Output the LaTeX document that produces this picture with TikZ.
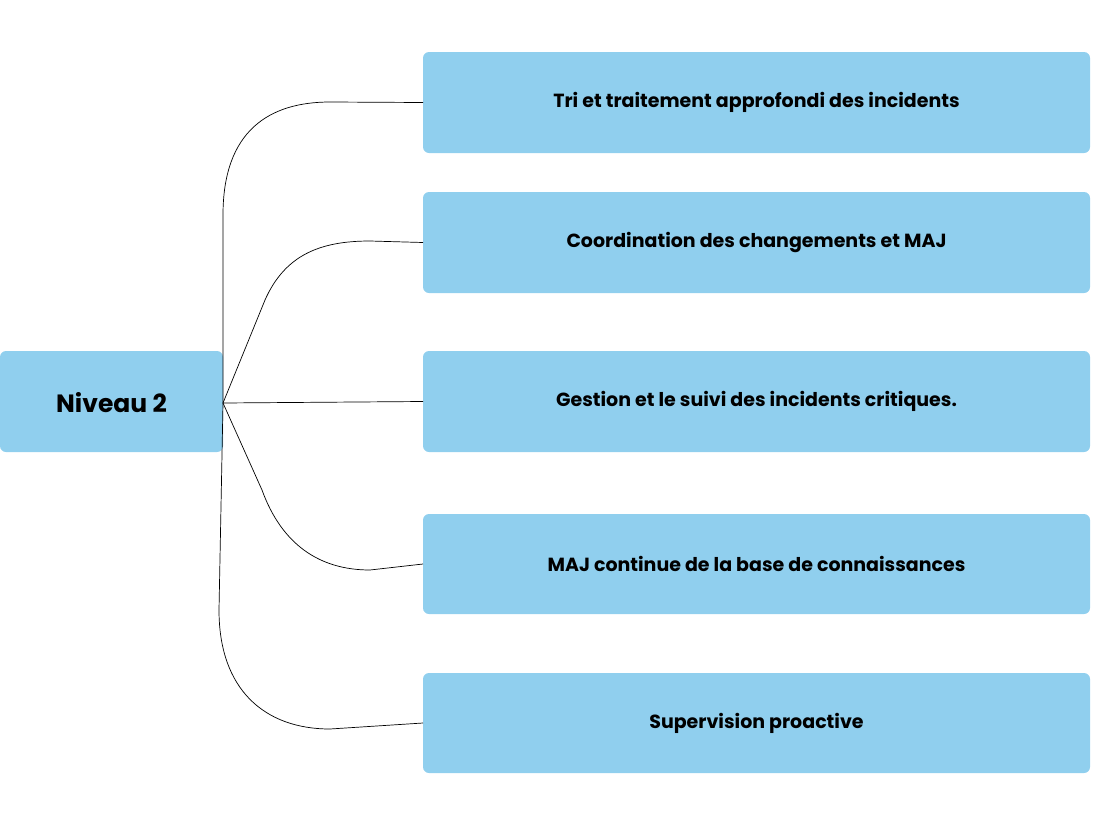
\documentclass[tikz,border=0pt]{standalone}
\usepackage{fontspec}
\setmainfont{Poppins}
\definecolor{boxc}{HTML}{90CFEE}
\begin{document}
\begin{tikzpicture}[x=1pt,y=-1pt,
  bx/.style={fill=boxc,rounded corners=6pt,inner sep=0pt},
  lbl/.style={font=\fontsize{19}{22}\selectfont\bfseries},
  conn/.style={draw=black,line width=0.7pt}]
\useasboundingbox (0,0) rectangle (1104,833);
\fill[bx] (0,351) rectangle (223,452);
\node[font=\fontsize{25}{30}\selectfont\bfseries] (n) at (111.5,403) {Niveau 2};
\coordinate (c) at (223,403);
\foreach \y/\h/\t [count=\i] in {52/153/Tri et traitement approfondi des incidents,192/293/Coordination des changements et MAJ,351/452/Gestion et le suivi des incidents critiques.,514/614/MAJ continue de la base de connaissances,673/773/Supervision proactive}{
  \fill[bx] (423,\y) rectangle (1090,\h);
  \node[lbl] (b\i) at (756.5,{(\y+\h)/2}) {\t};
  \coordinate (e\i) at (423,{(\y+\h)/2});
}
\draw[conn] (c) -- (223,215) .. controls (223,130) and (270,102) .. (330,102) -- (e1);
\draw[conn] (c) -- (265,300) .. controls (285,255) and (320,241) .. (370,241) -- (e2);
\draw[conn] (c) -- (e3);
\draw[conn] (c) -- (262,490) .. controls (282,545) and (320,570) .. (370,570) -- (e4);
\draw[conn] (c) -- (219,610) .. controls (219,690) and (265,729) .. (330,729) -- (e5);
\end{tikzpicture}
\end{document}
